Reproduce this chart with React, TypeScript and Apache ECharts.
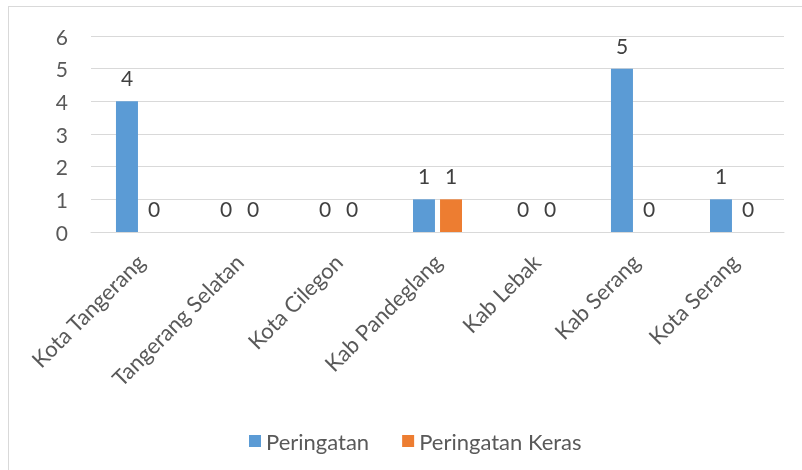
import React, { useEffect, useRef } from "react";
import * as echarts from "echarts";

const categories = [
  "Kota Tangerang",
  "Tangerang Selatan",
  "Kota Cilegon",
  "Kab Pandeglang",
  "Kab Lebak",
  "Kab Serang",
  "Kota Serang",
];
const peringatan = [4, 0, 0, 1, 0, 5, 1];
const peringatanKeras = [0, 0, 0, 1, 0, 0, 0];
const yTicks = [0, 1, 2, 3, 4, 5, 6];

const FONT = "Lato";
const TXT = "#595959";
const FS = 21;

export default function App() {
  const ref = useRef<HTMLDivElement>(null);
  useEffect(() => {
    if (!ref.current) return;
    const chart = echarts.init(ref.current, undefined, { renderer: "svg" });
    const label = {
      show: true,
      position: "top" as const,
      distance: 13,
      color: "#404040",
      fontFamily: FONT,
      fontSize: FS,
    };
    chart.setOption({
      animation: false,
      textStyle: { fontFamily: FONT },
      graphic: [
        { type: "line", shape: { x1: 8, y1: 6.5, x2: 802, y2: 6.5 }, style: { stroke: "#d9d9d9", lineWidth: 1 } },
        { type: "line", shape: { x1: 8.5, y1: 6, x2: 8.5, y2: 470 }, style: { stroke: "#d9d9d9", lineWidth: 1 } },
      ],
      grid: { left: 91, right: 18, top: 36, bottom: 238, containLabel: false },
      legend: {
        top: 425,
        left: 244,
        itemWidth: 12,
        itemHeight: 12,
        itemGap: 33,
        icon: "rect",
        textStyle: { color: TXT, fontFamily: FONT, fontSize: 22 },
        data: ["Peringatan", "Peringatan Keras"],
      },
      xAxis: {
        type: "category",
        data: categories,
        axisLine: { show: true, lineStyle: { color: "#d9d9d9" } },
        axisTick: { show: false },
        axisLabel: {
          rotate: 45,
          interval: 0,
          color: TXT,
          fontFamily: FONT,
          fontSize: 22,
          margin: 26,
        },
      },
      yAxis: {
        type: "value",
        min: yTicks[0],
        max: yTicks[yTicks.length - 1],
        interval: 1,
        axisLine: { show: false },
        axisTick: { show: false },
        splitLine: { lineStyle: { color: "#d9d9d9", width: 1 } },
        axisLabel: { color: TXT, fontFamily: FONT, fontSize: FS, margin: 23 },
      },
      series: [
        {
          name: "Peringatan",
          type: "bar",
          data: peringatan,
          barWidth: 22,
          barGap: "23%",
          itemStyle: { color: "#5B9BD5" },
          label,
        },
        {
          name: "Peringatan Keras",
          type: "bar",
          data: peringatanKeras,
          barWidth: 22,
          barGap: "23%",
          itemStyle: { color: "#ED7D31" },
          label,
        },
      ],
    });
    return () => chart.dispose();
  }, []);
  return (
    <div
      ref={ref}
      style={{ position: "fixed", left: 0, top: 0, width: 802, height: 470 }}
    />
  );
}
